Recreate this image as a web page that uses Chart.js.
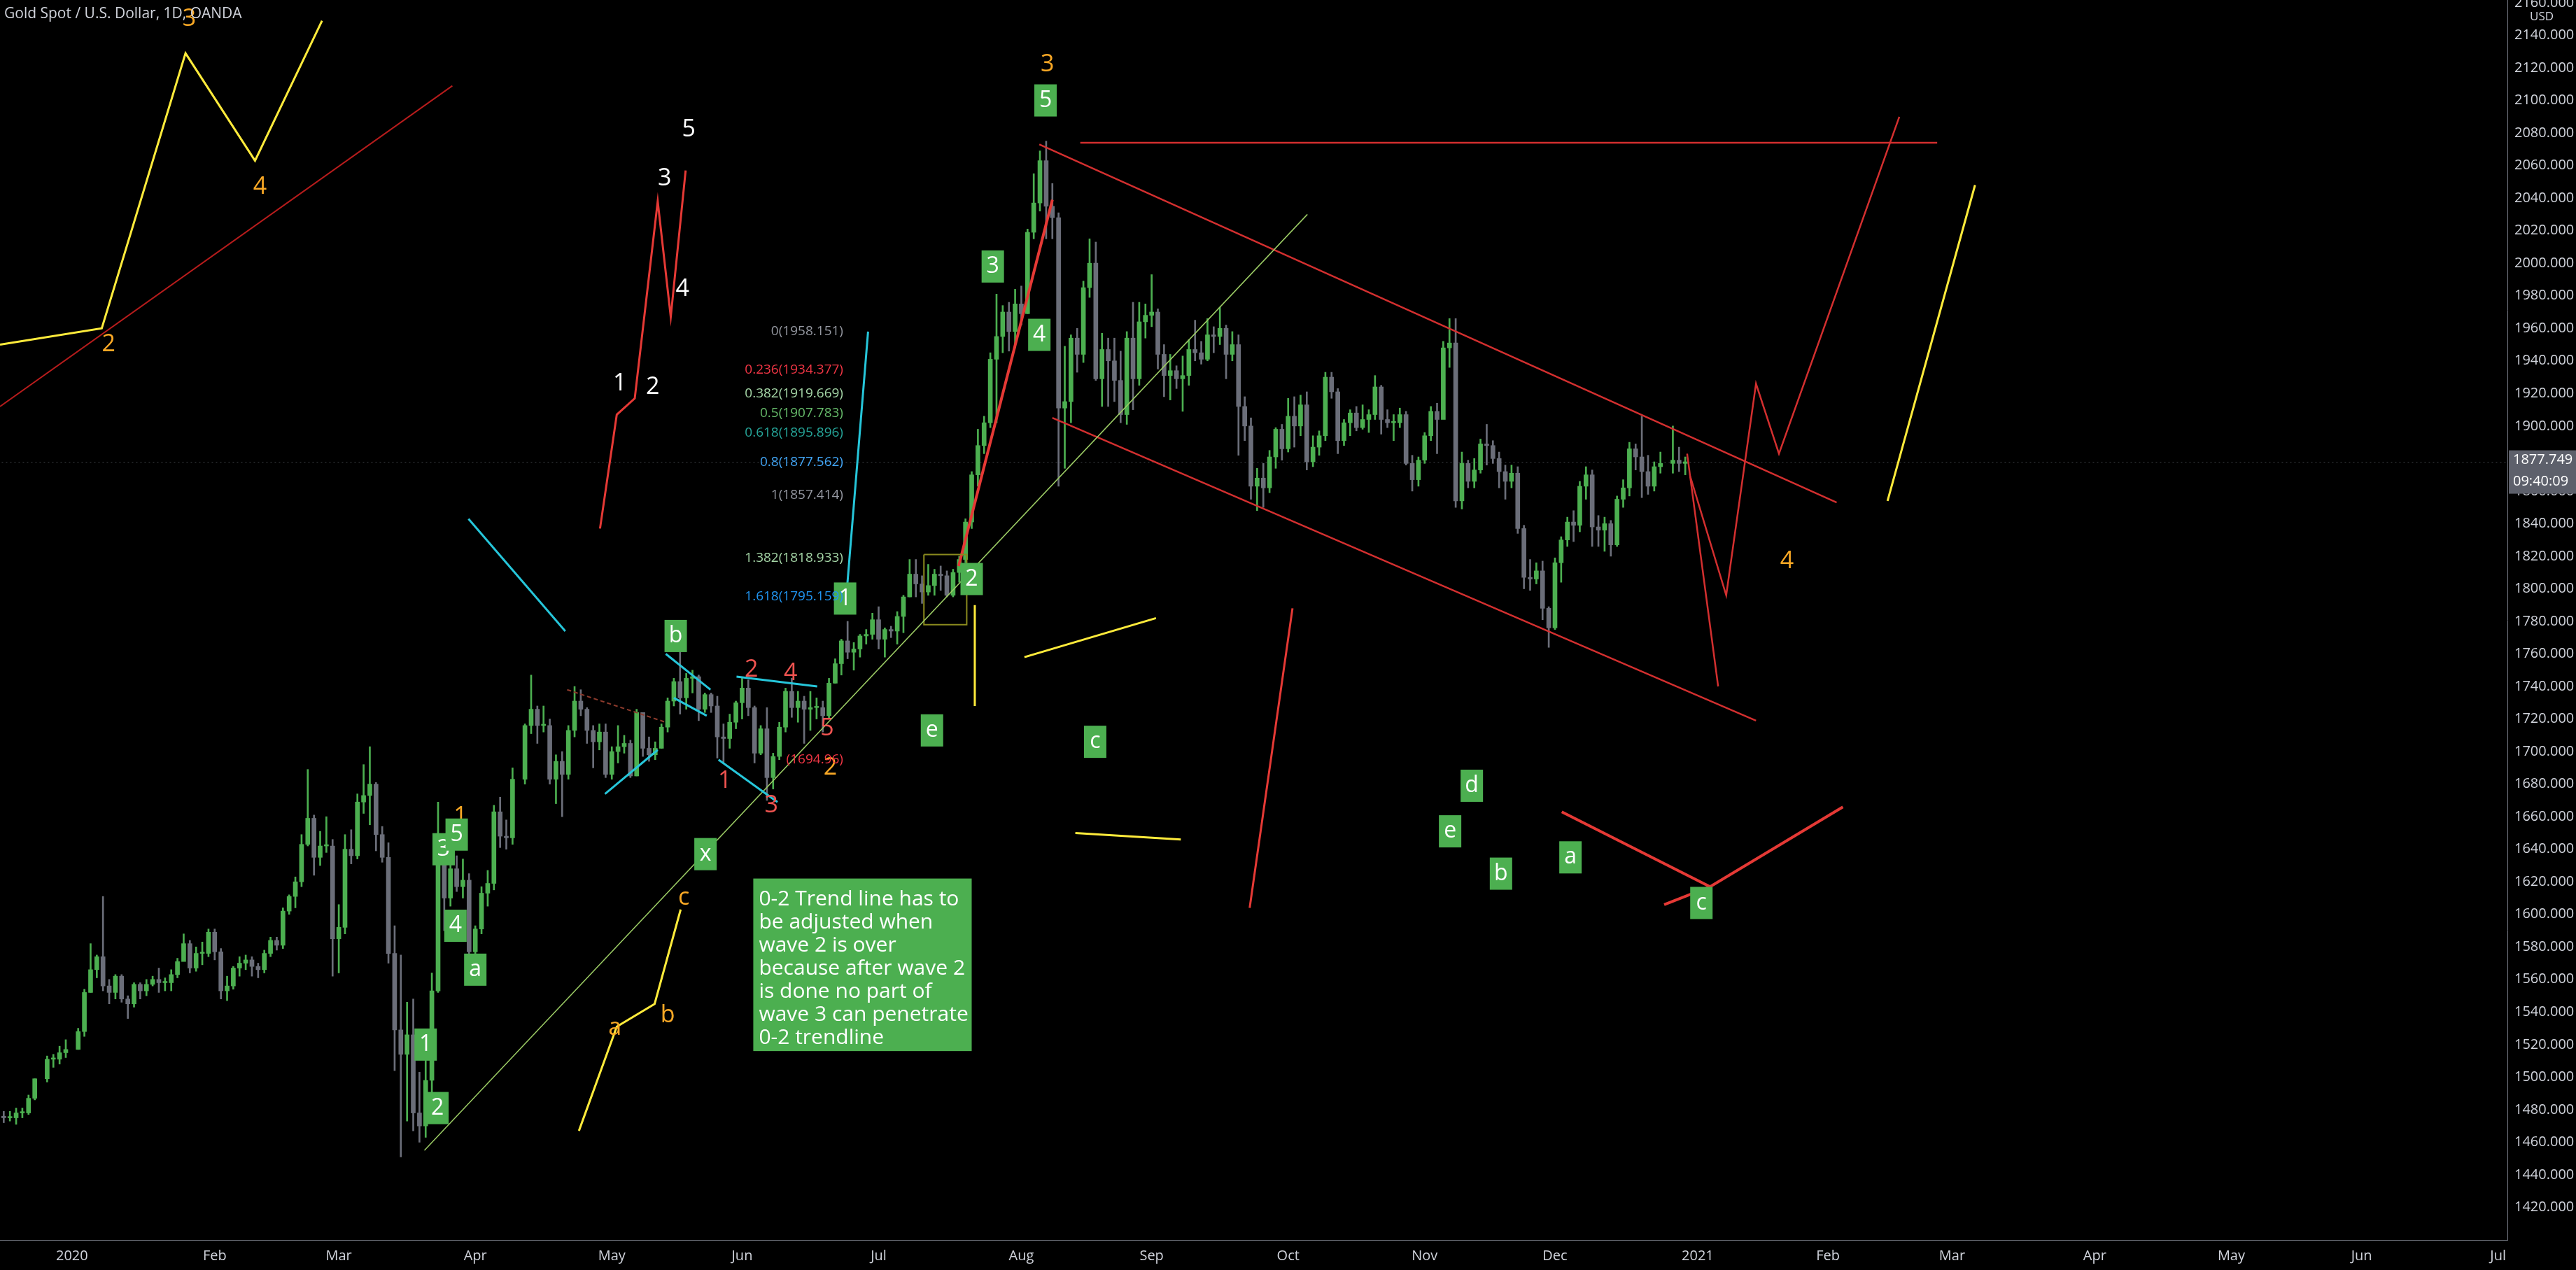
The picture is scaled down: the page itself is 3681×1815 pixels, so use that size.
<!DOCTYPE html>
<html>
<head>
<meta charset="utf-8">
<script src="https://cdn.jsdelivr.net/npm/chart.js@4"></script>
<style>
body{margin:0;background:#000;overflow:hidden}
</style>
</head>
<body>
<canvas id="c" width="3681" height="1815"></canvas>
<script>
// daily candles: date, high, low, close (open = previous close)
var candles = [
['2019-12-16',1481,1474,1476],['2019-12-17',1479,1472,1475],['2019-12-18',1479,1473,1475],['2019-12-19',1481,1471,1478],['2019-12-20',1481,1475,1478],
['2019-12-23',1489,1477,1487],['2019-12-24',1499,1486,1499],['2019-12-26',1513,1497,1511],['2019-12-27',1514,1506,1511],['2019-12-30',1519,1508,1515],['2019-12-31',1523,1512,1517],
['2020-01-02',1530,1517,1528],['2020-01-03',1554,1525,1552],['2020-01-06',1582,1552,1566],['2020-01-07',1575,1561,1574],['2020-01-08',1611,1553,1556],['2020-01-09',1560,1545,1552],['2020-01-10',1563,1548,1562],
['2020-01-13',1563,1546,1548],['2020-01-14',1550,1536,1545],['2020-01-15',1558,1543,1557],['2020-01-16',1558,1548,1553],['2020-01-17',1560,1550,1557],
['2020-01-20',1562,1556,1560],['2020-01-21',1567,1552,1558],['2020-01-22',1561,1553,1558],['2020-01-23',1566,1553,1563],['2020-01-24',1573,1561,1571],
['2020-01-27',1588,1572,1582],['2020-01-28',1584,1564,1567],['2020-01-29',1580,1565,1576],['2020-01-30',1583,1569,1576],['2020-01-31',1591,1574,1589],
['2020-02-03',1591,1572,1577],['2020-02-04',1579,1548,1553],['2020-02-05',1562,1547,1556],['2020-02-06',1568,1554,1567],['2020-02-07',1574,1562,1570],
['2020-02-10',1575,1566,1572],['2020-02-11',1574,1562,1568],['2020-02-12',1570,1561,1566],['2020-02-13',1578,1564,1576],['2020-02-14',1586,1574,1584],
['2020-02-17',1586,1578,1581],['2020-02-18',1604,1579,1602],['2020-02-19',1612,1600,1611],['2020-02-20',1623,1604,1620],['2020-02-21',1649,1617,1643],
['2020-02-24',1689,1642,1659],['2020-02-25',1661,1624,1635],['2020-02-26',1651,1630,1642],['2020-02-27',1660,1638,1642],['2020-02-28',1646,1562,1585],
['2020-03-02',1606,1564,1592],['2020-03-03',1649,1588,1640],['2020-03-04',1652,1631,1636],['2020-03-05',1674,1634,1669],['2020-03-06',1692,1662,1673],
['2020-03-09',1703,1655,1680],['2020-03-10',1681,1639,1649],['2020-03-11',1654,1632,1635],['2020-03-12',1644,1570,1576],['2020-03-13',1593,1504,1529],
['2020-03-16',1575,1451,1514],['2020-03-17',1546,1473,1526],['2020-03-18',1548,1467,1478],['2020-03-19',1503,1460,1470],['2020-03-20',1516,1463,1498],
['2020-03-23',1564,1483,1553],['2020-03-24',1669,1552,1631],['2020-03-25',1633,1590,1610],['2020-03-26',1640,1605,1628],['2020-03-27',1636,1614,1617],
['2020-03-30',1634,1610,1621],['2020-03-31',1625,1568,1577],
['2020-04-01',1593,1567,1591],['2020-04-02',1617,1588,1613],['2020-04-03',1627,1605,1619],['2020-04-06',1667,1615,1663],['2020-04-07',1672,1641,1648],
['2020-04-08',1658,1640,1647],['2020-04-09',1690,1643,1683],['2020-04-13',1717,1680,1716],['2020-04-14',1747,1711,1726],['2020-04-15',1728,1705,1716],
['2020-04-16',1728,1712,1716],['2020-04-17',1720,1680,1683],['2020-04-20',1698,1668,1694],['2020-04-21',1700,1660,1686],['2020-04-22',1716,1683,1713],
['2020-04-23',1740,1709,1731],['2020-04-24',1738,1722,1726],['2020-04-27',1727,1705,1713],['2020-04-28',1716,1690,1706],['2020-04-29',1717,1701,1712],['2020-04-30',1717,1684,1686],
['2020-05-01',1703,1683,1700],['2020-05-04',1716,1693,1703],['2020-05-05',1710,1699,1705],['2020-05-06',1707,1684,1685],['2020-05-07',1726,1685,1724],
['2020-05-08',1722,1697,1702],['2020-05-11',1709,1694,1698],['2020-05-12',1706,1695,1702],['2020-05-13',1717,1702,1715],['2020-05-14',1733,1712,1731],['2020-05-15',1745,1728,1743],
['2020-05-18',1765,1723,1733],['2020-05-19',1748,1726,1745],['2020-05-20',1750,1736,1746],['2020-05-21',1747,1719,1726],['2020-05-22',1736,1724,1735],
['2020-05-25',1736,1724,1728],['2020-05-26',1734,1696,1709],['2020-05-27',1717,1693,1708],['2020-05-28',1723,1702,1718],['2020-05-29',1731,1714,1730],
['2020-06-01',1745,1720,1739],['2020-06-02',1744,1722,1727],['2020-06-03',1728,1693,1699],['2020-06-04',1716,1698,1714],['2020-06-05',1727,1670,1684],
['2020-06-08',1699,1677,1697],['2020-06-09',1718,1695,1715],['2020-06-10',1739,1712,1737],['2020-06-11',1745,1721,1727],['2020-06-12',1737,1718,1731],
['2020-06-15',1734,1705,1726],['2020-06-16',1737,1713,1727],['2020-06-17',1733,1720,1727],['2020-06-18',1731,1712,1722],['2020-06-19',1745,1720,1742],
['2020-06-22',1757,1742,1754],['2020-06-23',1769,1747,1768],['2020-06-24',1780,1757,1761],['2020-06-25',1767,1750,1763],['2020-06-26',1772,1758,1771],
['2020-06-29',1775,1766,1772],['2020-06-30',1785,1769,1781],
['2020-07-01',1789,1763,1769],['2020-07-02',1776,1758,1775],['2020-07-03',1777,1770,1774],['2020-07-06',1786,1766,1783],['2020-07-07',1796,1773,1795],
['2020-07-08',1818,1795,1809],['2020-07-09',1818,1795,1803],['2020-07-10',1808,1791,1798],['2020-07-13',1815,1796,1802],['2020-07-14',1812,1796,1809],
['2020-07-15',1814,1799,1808],['2020-07-16',1811,1795,1796],['2020-07-17',1812,1795,1810],['2020-07-20',1820,1804,1818],['2020-07-21',1843,1816,1841],
['2020-07-22',1872,1837,1870],['2020-07-23',1898,1863,1888],['2020-07-24',1906,1883,1902],['2020-07-27',1945,1899,1941],['2020-07-28',1981,1902,1955],
['2020-07-29',1974,1945,1970],['2020-07-30',1976,1946,1958],['2020-07-31',1984,1948,1975],
['2020-08-03',1986,1962,1969],['2020-08-04',2021,1969,2019],['2020-08-05',2055,2015,2037],['2020-08-06',2069,2032,2063],['2020-08-07',2075,2015,2035],
['2020-08-10',2049,2015,2028],['2020-08-11',2031,1863,1911],['2020-08-12',1949,1874,1915],['2020-08-13',1956,1902,1954],['2020-08-14',1960,1933,1944],
['2020-08-17',1989,1939,1985],['2020-08-18',2015,1979,2000],['2020-08-19',2013,1928,1929],['2020-08-20',1957,1912,1947],['2020-08-21',1954,1912,1940],
['2020-08-24',1954,1915,1928],['2020-08-25',1946,1902,1907],['2020-08-26',1958,1901,1954],['2020-08-27',1976,1910,1929],['2020-08-28',1976,1925,1964],['2020-08-31',1975,1954,1968],
['2020-09-01',1993,1961,1970],['2020-09-02',1972,1935,1944],['2020-09-03',1950,1918,1931],['2020-09-04',1944,1916,1934],['2020-09-07',1937,1923,1929],
['2020-09-08',1943,1909,1931],['2020-09-09',1953,1925,1947],['2020-09-10',1965,1940,1945],['2020-09-11',1952,1938,1941],['2020-09-14',1966,1940,1956],
['2020-09-15',1961,1945,1955],['2020-09-16',1973,1950,1960],['2020-09-17',1962,1929,1944],['2020-09-18',1958,1940,1950],['2020-09-21',1956,1882,1912],
['2020-09-22',1918,1891,1900],['2020-09-23',1905,1855,1863],['2020-09-24',1874,1848,1868],['2020-09-25',1877,1850,1862],['2020-09-28',1885,1859,1881],
['2020-09-29',1899,1874,1898],['2020-09-30',1901,1879,1886],
['2020-10-01',1917,1884,1906],['2020-10-02',1918,1887,1900],['2020-10-05',1919,1894,1913],['2020-10-06',1921,1873,1878],['2020-10-07',1894,1875,1887],
['2020-10-08',1897,1882,1894],['2020-10-09',1933,1891,1930],['2020-10-12',1933,1917,1921],['2020-10-13',1923,1883,1891],['2020-10-14',1904,1888,1902],
['2020-10-15',1910,1894,1908],['2020-10-16',1912,1897,1899],['2020-10-19',1913,1898,1904],['2020-10-20',1910,1896,1907],['2020-10-21',1931,1904,1924],
['2020-10-22',1925,1895,1904],['2020-10-23',1910,1899,1902],['2020-10-26',1907,1891,1902],['2020-10-27',1911,1899,1907],['2020-10-28',1909,1876,1877],
['2020-10-29',1882,1860,1867],['2020-10-30',1881,1863,1879],
['2020-11-02',1896,1877,1894],['2020-11-03',1912,1891,1909],['2020-11-04',1914,1883,1904],['2020-11-05',1952,1905,1948],['2020-11-06',1966,1936,1951],
['2020-11-09',1966,1850,1854],['2020-11-10',1884,1849,1877],['2020-11-11',1879,1862,1866],['2020-11-12',1880,1862,1873],['2020-11-13',1892,1871,1889],
['2020-11-16',1901,1876,1888],['2020-11-17',1891,1877,1880],['2020-11-18',1884,1862,1872],['2020-11-19',1876,1855,1866],['2020-11-20',1876,1862,1871],
['2020-11-23',1875,1834,1837],['2020-11-24',1839,1800,1807],['2020-11-25',1818,1799,1806],['2020-11-26',1816,1803,1811],['2020-11-27',1817,1781,1788],['2020-11-30',1789,1764,1776],
['2020-12-01',1819,1775,1816],['2020-12-02',1832,1804,1830],['2020-12-03',1844,1826,1841],['2020-12-04',1848,1829,1839],['2020-12-07',1866,1835,1863],
['2020-12-08',1875,1855,1870],['2020-12-09',1873,1826,1838],['2020-12-10',1845,1826,1836],['2020-12-11',1844,1823,1840],['2020-12-14',1842,1820,1827],
['2020-12-15',1857,1826,1855],['2020-12-16',1867,1850,1862],['2020-12-17',1890,1857,1886],['2020-12-18',1889,1873,1881],['2020-12-21',1906,1856,1872],
['2020-12-22',1882,1858,1863],['2020-12-23',1878,1860,1875],['2020-12-24',1884,1871,1877],['2020-12-28',1900,1871,1879],['2020-12-29',1887,1872,1877],['2020-12-30',1881,1870,1878]
];

var monthStarts = ['2020-01-01','2020-02-01','2020-03-01','2020-04-01','2020-05-01','2020-06-01','2020-07-01','2020-08-01','2020-09-01','2020-10-01','2020-11-01','2020-12-01','2021-01-01','2021-02-01','2021-03-01','2021-04-01','2021-05-01','2021-06-01','2021-07-01'];
var monthLabels = ['2020','Feb','Mar','Apr','May','Jun','Jul','Aug','Sep','Oct','Nov','Dec','2021','Feb','Mar','Apr','May','Jun','Jul'];

var lastPrice = 1877.749;
var countdown = '09:40:09';

// drawings, in bar index / price units
var drawings = [
 {c:'#ffeb3b',w:3,p:[[0.4,1950],[16.8,1960],[30.3,2129],[41.5,2063],[52.3,2149]]},
 {c:'#b71c1c',w:2,p:[[0.4,1912],[73.3,2109]]},
 {c:'#e53935',w:3,p:[[97.1,1837],[99.8,1907],[102.7,1917],[106.4,2038],[108.5,1967],[110.9,2057]]},
 {c:'#26c6da',w:3,p:[[75.9,1843],[91.5,1774]]},
 {c:'#26c6da',w:3,p:[[140.3,1958],[136.9,1800]]},
 {c:'#26c6da',w:3,p:[[107.7,1760],[114.9,1738]]},
 {c:'#26c6da',w:3,p:[[97.9,1674],[106.4,1701]]},
 {c:'#26c6da',w:3,p:[[109,1733],[114.3,1722]]},
 {c:'#26c6da',w:3,p:[[116.2,1695],[125.7,1669]]},
 {c:'#26c6da',w:3,p:[[119.1,1746],[132.1,1740]]},
 {c:'#8d3a2c',w:2,d:[6,4],p:[[91.8,1738],[107.7,1718]]},
 {c:'#ffeb3b',w:3,p:[[93.7,1467],[99.8,1531],[105.9,1545],[110.1,1603]]},
 {c:'#9ccc65',w:1.5,p:[[68.8,1455],[211.1,2030]]},
 {c:'#8a8a1e',w:2,p:[[149.3,1821],[156.2,1821],[156.2,1778],[149.3,1778],[149.3,1821]]},
 {c:'#ffeb3b',w:3,p:[[157.5,1790],[157.5,1728]]},
 {c:'#ffeb3b',w:3,p:[[165.5,1758],[186.7,1782]]},
 {c:'#ffeb3b',w:3,p:[[173.7,1650],[190.7,1646]]},
 {c:'#e53935',w:4,p:[[154.9,1814],[170,2039]]},
 {c:'#e53935',w:3,p:[[201.8,1604],[208.7,1788]]},
 {c:'#d32f2f',w:2.5,p:[[167.9,2073],[296.4,1853]]},
 {c:'#d32f2f',w:2.5,p:[[170,1905],[283.4,1719]]},
 {c:'#d32f2f',w:2.5,p:[[174.5,2074],[312.6,2074]]},
 {c:'#d32f2f',w:2.5,p:[[272.3,1883],[277.3,1740]]},
 {c:'#d32f2f',w:2.5,p:[[272.8,1869],[278.6,1796],[283.4,1926],[287.1,1883],[306.5,2090]]},
 {c:'#ffeb3b',w:3,p:[[304.6,1854],[318.7,2048]]},
 {c:'#e53935',w:4,p:[[252.1,1663],[276,1617],[297.4,1666]]},
 {c:'#e53935',w:4,p:[[268.6,1606],[276,1617]]}
];

var waveLabels = [
 ['3',30.9,2150,'#f9a825'],['4',42.3,2047,'#f9a825'],['2',17.9,1950,'#f9a825'],['1',74.6,1660,'#f9a825'],
 ['a',99.5,1530,'#f9a825'],['b',108,1538,'#f9a825'],['c',110.6,1610,'#f9a825'],['2',134.2,1690,'#f9a825'],
 ['4',288.4,1817,'#f9a825'],['3',169.2,2122,'#f9a825'],
 ['1',100.3,1926,'#ffffff'],['2',105.6,1924,'#ffffff'],['3',107.5,2052,'#ffffff'],['4',110.4,1984,'#ffffff'],['5',111.4,2082,'#ffffff'],
 ['2',121.5,1750,'#ef5350'],['4',127.8,1748,'#ef5350'],['1',117.2,1682,'#ef5350'],['3',124.7,1667,'#ef5350'],['5',133.7,1714,'#ef5350']
];

var boxLabels = [
 ['5',168.9,2100],['3',160.4,1998],['4',167.9,1956],['2',157,1806],['1',136.6,1794],['b',109.3,1771],['e',150.6,1713],
 ['c',176.9,1706],['d',237.6,1679],['e',234.1,1651],['b',242.3,1625],['a',253.5,1635],['c',274.6,1607],['x',114.1,1637],
 ['3',71.9,1640],['5',74,1649],['4',73.8,1593],['a',77,1566],['1',69,1520],['2',70.9,1481]
];

var fibLevels = [
 ['0(1958.151)',1958.151,'#9598a1'],['0.236(1934.377)',1934.377,'#f23645'],['0.382(1919.669)',1919.669,'#a5d6a7'],
 ['0.5(1907.783)',1907.783,'#66bb6a'],['0.618(1895.896)',1895.896,'#26a69a'],['0.8(1877.562)',1877.562,'#42a5f5'],
 ['1(1857.414)',1857.414,'#9598a1'],['1.382(1818.933)',1818.933,'#a5d6a7'],['1.618(1795.159)',1795.159,'#2196f3'],
 ['(1694.96)',1694.96,'#f23645']
];

var noteText = ['0-2 Trend line has to','be adjusted when','wave 2 is over','because after wave 2','is done no part of','wave 3 can penetrate','0-2 trendline'];
var noteBox = [121.8,1622,157,1516];

function barIndex(s){
  var start = Date.UTC(2019,11,16);
  var p = s.split('-');
  var t = Date.UTC(+p[0],+p[1]-1,+p[2]);
  var n = 0;
  for(var d=start; d<t; d+=864e5){
    var wd = new Date(d).getUTCDay();
    if(wd!=0 && wd!=6) n++;
  }
  return n;
}

var bodies=[], wicks=[], colors=[];
var prev = candles[0][3];
candles.forEach(function(r){
  var i = barIndex(r[0]);
  var o = prev, c = r[3];
  if(Math.abs(c-o)<0.8){ c = o+0.8; }
  bodies.push({x:i,y:[o,c]});
  wicks.push({x:i,y:[r[2],r[1]]});
  colors.push(r[3]>=prev ? '#4caf50' : '#6b6e79');
  prev = r[3];
});
var tickIdx = monthStarts.map(barIndex);

var datasets = [
 {type:'bar',data:wicks,backgroundColor:colors,barThickness:2,grouped:false,order:2},
 {type:'bar',data:bodies,backgroundColor:colors,barThickness:6,grouped:false,order:1}
];
drawings.forEach(function(d){
  datasets.push({type:'line',data:d.p.map(function(q){return {x:q[0],y:q[1]};}),borderColor:d.c,borderWidth:d.w,
    borderDash:d.d||[],pointRadius:0,fill:false,tension:0,order:0});
});
datasets.push({type:'line',data:[{x:0,y:lastPrice},{x:405,y:lastPrice}],borderColor:'rgba(120,123,134,0.5)',borderWidth:1,borderDash:[2,4],pointRadius:0,order:3});

var textPlugin = {
  id:'texts',
  afterDatasetsDraw:function(chart){
    var ctx = chart.ctx, xs = chart.scales.x, ys = chart.scales.y;
    ctx.save();
    ctx.textBaseline='middle'; ctx.textAlign='center';
    ctx.font='34px "Open Sans"';
    waveLabels.forEach(function(l){
      ctx.fillStyle=l[3];
      ctx.fillText(l[0], xs.getPixelForValue(l[1]), ys.getPixelForValue(l[2]));
    });
    boxLabels.forEach(function(l){
      var x = xs.getPixelForValue(l[1]), y = ys.getPixelForValue(l[2]);
      ctx.fillStyle='#4caf50';
      ctx.fillRect(x-16,y-23,32,46);
      ctx.fillStyle='#fff';
      ctx.font='32px "Open Sans"';
      ctx.fillText(l[0],x,y);
    });
    ctx.textAlign='right'; ctx.font='19px "Open Sans"';
    fibLevels.forEach(function(f){
      ctx.fillStyle=f[2];
      ctx.fillText(f[0], xs.getPixelForValue(136.3), ys.getPixelForValue(f[1]));
    });
    // note box
    var x0=xs.getPixelForValue(noteBox[0]), y0=ys.getPixelForValue(noteBox[1]);
    var x1=xs.getPixelForValue(noteBox[2]), y1=ys.getPixelForValue(noteBox[3]);
    ctx.fillStyle='#4caf50';
    ctx.fillRect(x0,y0,x1-x0,y1-y0);
    ctx.fillStyle='#fff'; ctx.textAlign='left'; ctx.font='30px "Open Sans"';
    noteText.forEach(function(t,k){ ctx.fillText(t,x0+8,y0+30+k*33); });
    // title
    ctx.fillStyle='#d1d4dc'; ctx.font='21px "Open Sans"';
    ctx.fillText('Gold Spot / U.S. Dollar, 1D, OANDA',6,20);
    // price tag
    var ya = ys.getPixelForValue(lastPrice), xa = chart.chartArea.right;
    ctx.fillStyle='#5d606b';
    ctx.fillRect(xa+2,ya-17,96,62);
    ctx.fillStyle='#fff'; ctx.font='20px "Open Sans"';
    ctx.fillText(lastPrice.toFixed(3),xa+8,ya-3);
    ctx.fillText(countdown,xa+8,ya+28);
    ctx.fillStyle='#d1d4dc'; ctx.font='17px "Open Sans"';
    ctx.fillText('USD',xa+32,24);
    ctx.restore();
  }
};

new Chart(document.getElementById('c'),{
  data:{datasets:datasets},
  options:{
    responsive:false,devicePixelRatio:1,animation:false,
    layout:{padding:0},
    plugins:{legend:{display:false},tooltip:{enabled:false}},
    scales:{
      x:{type:'linear',min:0.4,max:404.5,offset:false,
        grid:{display:false,drawTicks:true,tickColor:'#787b86',tickLength:8,offset:false},
        border:{color:'#787b86'},
        afterBuildTicks:function(s){ s.ticks = tickIdx.map(function(v){return {value:v};}); },
        afterFit:function(s){ s.height=43; s.paddingLeft=0; s.paddingRight=0; },
        ticks:{color:'#d1d4dc',font:{size:20,family:'Open Sans'},maxRotation:0,autoSkip:false,
          callback:function(v,i){ return monthLabels[i]; }}
      },
      y:{type:'linear',position:'right',min:1400,max:2161.7,
        grid:{display:false,tickColor:'#787b86',tickLength:6},
        border:{color:'#787b86'},
        afterBuildTicks:function(s){ var t=[]; for(var v=1420; v<=2160; v+=20) t.push({value:v}); s.ticks=t; },
        afterFit:function(s){ s.width=98; s.paddingTop=0; s.paddingBottom=0; },
        ticks:{color:'#d1d4dc',font:{size:20,family:'Open Sans'},padding:4,
          callback:function(v){ return v.toFixed(3); }}
      }
    }
  },
  plugins:[textPlugin]
});
</script>
</body>
</html>
